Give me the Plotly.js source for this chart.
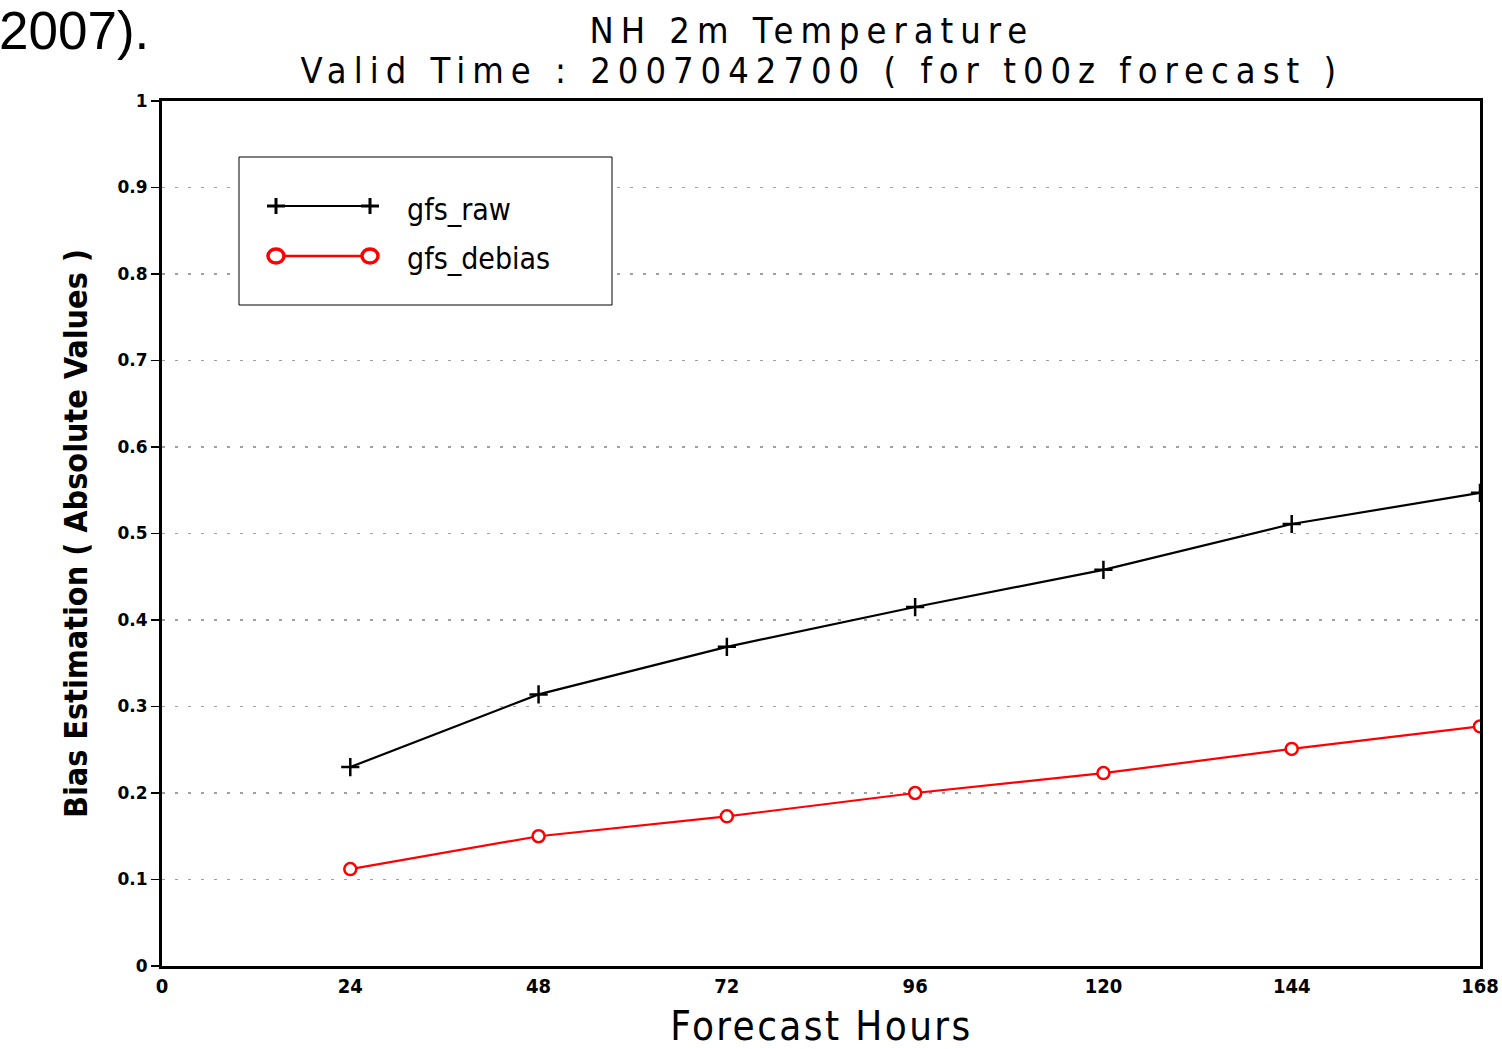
<!DOCTYPE html>
<html>
<head>
<meta charset="utf-8">
<script src="https://cdn.plot.ly/plotly-3.0.1.min.js"></script>
<style>
html,body{margin:0;padding:0;background:#fff;}
#chart{width:1502px;height:1049px;}
.annotation[data-index="0"] text, .annotation[data-index="1"] text {letter-spacing: 7px;}
.annotation[data-index="5"] text {letter-spacing: 2.4px;}
</style>
</head>
<body>
<div id="chart"></div>
<script>
const forecastHours = [24, 48, 72, 96, 120, 144, 168];
const gfsRaw = [0.230, 0.314, 0.369, 0.415, 0.458, 0.511, 0.547];
const gfsDebias = [0.112, 0.150, 0.173, 0.200, 0.223, 0.251, 0.277];
const xTickVals = [0, 24, 48, 72, 96, 120, 144, 168];
const yTickVals = [0, 0.1, 0.2, 0.3, 0.4, 0.5, 0.6, 0.7, 0.8, 0.9, 1];
const yTickText = ["0", "0.1", "0.2", "0.3", "0.4", "0.5", "0.6", "0.7", "0.8", "0.9", "1"];
const seriesNames = ["gfs_raw", "gfs_debias"];

const narrow = '"DejaVu Sans Condensed", "DejaVu Sans", sans-serif';

const traces = [
  {
    x: forecastHours, y: gfsRaw, name: seriesNames[0], type: 'scatter', mode: 'lines+markers',
    line: {color: '#000000', width: 2.2},
    marker: {symbol: 'cross-thin', size: 13, color: '#000000', line: {color: '#000000', width: 2.5}},
    cliponaxis: true, showlegend: false
  },
  {
    x: forecastHours, y: gfsDebias, name: seriesNames[1], type: 'scatter', mode: 'lines+markers',
    line: {color: '#ff0000', width: 2.2},
    marker: {symbol: 'circle', size: 12, color: '#ffffff', line: {color: '#ff0000', width: 2.5}},
    cliponaxis: true, showlegend: false
  }
];

// Custom legend (paper coords computed from pixel layout)
const W = 1502, H = 1049, L = 162, R = 22, T = 101, B = 83;
const pw = W - L - R, ph = H - T - B;
const px = v => (v - L) / pw;
const py = v => (H - B - v) / ph;

const shapes = [
  {type: 'rect', xref: 'paper', yref: 'paper', x0: px(239), x1: px(612), y0: py(305), y1: py(157),
   line: {color: '#000', width: 1}, fillcolor: '#fff', layer: 'above'},
  // raw legend line
  {type: 'line', xref: 'paper', yref: 'paper', x0: px(268), x1: px(378), y0: py(206), y1: py(206), line: {color: '#000', width: 2}, layer: 'above'},
  {type: 'line', xref: 'paper', yref: 'paper', x0: px(276), x1: px(276), y0: py(198), y1: py(214), line: {color: '#000', width: 3}, layer: 'above'},
  {type: 'line', xref: 'paper', yref: 'paper', x0: px(370), x1: px(370), y0: py(198), y1: py(214), line: {color: '#000', width: 3}, layer: 'above'},
  {type: 'line', xref: 'paper', yref: 'paper', x0: px(267), x1: px(285), y0: py(206), y1: py(206), line: {color: '#000', width: 3}, layer: 'above'},
  {type: 'line', xref: 'paper', yref: 'paper', x0: px(361), x1: px(379), y0: py(206), y1: py(206), line: {color: '#000', width: 3}, layer: 'above'},
  // debias legend line
  {type: 'line', xref: 'paper', yref: 'paper', x0: px(276), x1: px(370), y0: py(256), y1: py(256), line: {color: '#ff0000', width: 2.5}, layer: 'above'},
  {type: 'circle', xref: 'paper', yref: 'paper', x0: px(268), x1: px(284), y0: py(263), y1: py(249), line: {color: '#ff0000', width: 3.5}, fillcolor: '#ffffff', layer: 'above'},
  {type: 'circle', xref: 'paper', yref: 'paper', x0: px(362), x1: px(378), y0: py(263), y1: py(249), line: {color: '#ff0000', width: 3.5}, fillcolor: '#ffffff', layer: 'above'}
];

const annotations = [
  {text: 'NH 2m Temperature', xref: 'paper', yref: 'paper', x: px(812), y: py(30), showarrow: false,
   xanchor: 'center', yanchor: 'middle', font: {family: narrow, size: 36, color: '#000'}},
  {text: 'Valid Time : 2007042700 ( for t00z forecast )', xref: 'paper', yref: 'paper', x: px(822), y: py(70), showarrow: false,
   xanchor: 'center', yanchor: 'middle', font: {family: narrow, size: 36, color: '#000'}},
  {text: '2007).', xref: 'paper', yref: 'paper', x: px(151), y: py(31), showarrow: false,
   xanchor: 'right', yanchor: 'middle', font: {family: 'Liberation Sans, Arial, sans-serif', size: 53, color: '#000'}},
  {text: seriesNames[0], xref: 'paper', yref: 'paper', x: px(405), y: py(209), showarrow: false,
   xanchor: 'left', yanchor: 'middle', font: {family: narrow, size: 30, color: '#000'}},
  {text: seriesNames[1], xref: 'paper', yref: 'paper', x: px(405), y: py(258), showarrow: false,
   xanchor: 'left', yanchor: 'middle', font: {family: narrow, size: 30, color: '#000'}},
  {text: 'Forecast Hours', xref: 'paper', yref: 'paper', x: px(821), y: py(1026), showarrow: false,
   xanchor: 'center', yanchor: 'middle', font: {family: narrow, size: 40, color: '#000'}},
  {text: 'Bias Estimation ( Absolute Values )', xref: 'paper', yref: 'paper', x: px(76), y: py(534), showarrow: false,
   textangle: -90, xanchor: 'center', yanchor: 'middle', font: {family: narrow, size: 32, color: '#000', weight: 'bold'}}
];

const layout = {
  width: W, height: H,
  margin: {l: L, r: R, t: T, b: B, pad: 0},
  paper_bgcolor: '#ffffff', plot_bgcolor: '#ffffff',
  showlegend: false,
  xaxis: {
    range: [0, 168], tickvals: xTickVals, ticktext: xTickVals.map(String),
    showgrid: false, zeroline: false,
    showline: true, mirror: true, linecolor: '#000', linewidth: 3,
    ticks: '', ticklabelstandoff: 0,
    tickfont: {family: narrow, size: 20, color: '#000', weight: 'bold'}
  },
  yaxis: {
    range: [0, 1], tickvals: yTickVals, ticktext: yTickText,
    showgrid: true, gridcolor: '#a0a0a0', gridwidth: 1.5, griddash: '3px,10px',
    zeroline: false,
    showline: true, mirror: true, linecolor: '#000', linewidth: 3,
    ticks: 'outside', ticklen: 8, tickwidth: 1.5, tickcolor: '#000',
    tickfont: {family: '"DejaVu Sans", sans-serif', size: 17, color: '#000', weight: 'bold'}
  },
  shapes: shapes,
  annotations: annotations
};

Plotly.newPlot('chart', traces, layout, {displayModeBar: false, staticPlot: true});
</script>
</body>
</html>
